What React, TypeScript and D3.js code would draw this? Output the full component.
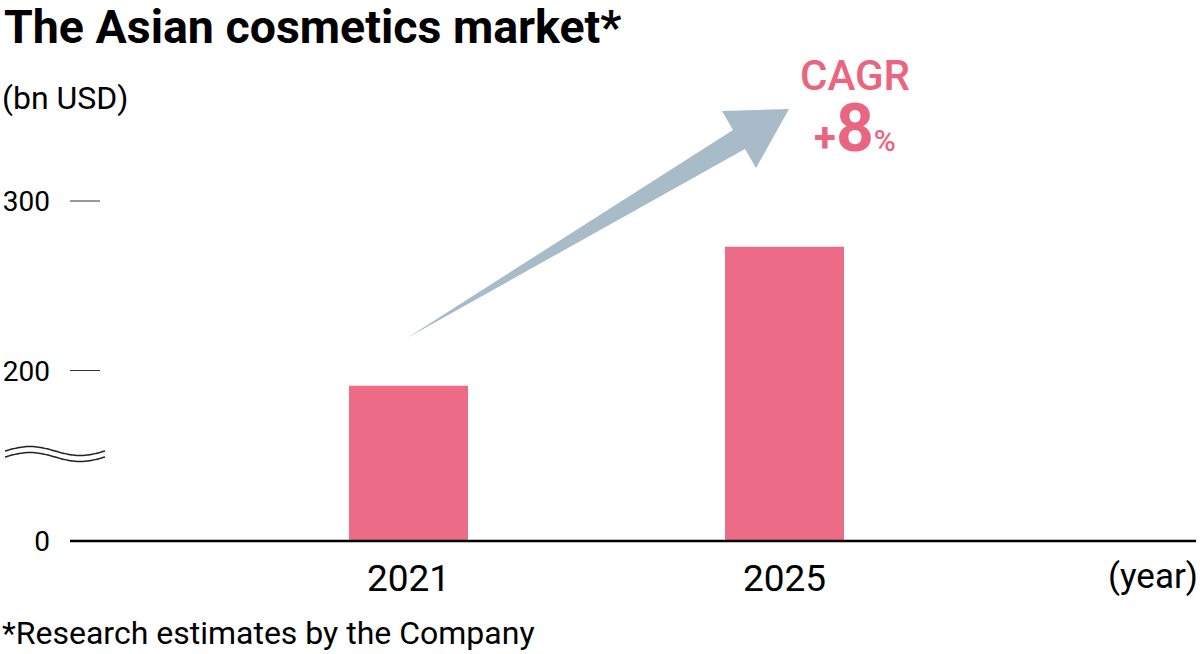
import React from "react";
import * as d3 from "d3";

const years = ["2021", "2025"];
const values = [191, 273];
const yTicks = [200, 300];
const yTickLabels = ["200", "300"];
const zeroLabel = "0";

const W = 1200;
const H = 654;
const FONT = "Roboto, 'Noto Sans', sans-serif";

export default function App() {
  const x = d3.scalePoint<string>().domain(years).range([408.5, 784.5]);
  const y = d3.scaleLinear().domain([100, 300]).range([540, 201]);
  const barW = 119;
  const baseY = 541;

  const wave = (off: number) => {
    const pts: [number, number][] = d3.range(0, 101, 2).map((t) => [5 + t, 454 + off - 4.5 * Math.sin((t / 100) * 2 * Math.PI)]);
    return d3.line().curve(d3.curveBasis)(pts) as string;
  };

  const arrow = [
    [407, 338],
    [733, 130],
    [722, 111],
    [789, 109],
    [756, 168],
    [745, 149],
  ];

  return (
    <svg width={W} height={H} style={{ position: "absolute", left: 0, top: 0 }} fontFamily={FONT}>
      <rect width={W} height={H} fill="#fff" />
      <text x={4} y={43} fontSize={46.5} fontWeight={700} fill="#000">The Asian cosmetics market*</text>
      <text x={2} y={109} fontSize={32} fill="#000">(bn USD)</text>

      {yTicks.map((t, i) => (
        <g key={t}>
          <line x1={70} x2={100} y1={y(t)} y2={y(t)} stroke="#333" strokeWidth={1} />
          <text x={50} y={y(t) + 10} fontSize={28} textAnchor="end" fill="#000">{yTickLabels[i]}</text>
        </g>
      ))}
      <text x={50} y={baseY + 10} fontSize={28} textAnchor="end" fill="#000">{zeroLabel}</text>

      <path d={wave(-3)} fill="none" stroke="#222" strokeWidth={1.5} />
      <path d={wave(3)} fill="none" stroke="#222" strokeWidth={1.5} />

      {years.map((yr, i) => (
        <rect key={yr} x={(x(yr) as number) - barW / 2} y={y(values[i])} width={barW} height={baseY - y(values[i])} fill="#ec6c87" />
      ))}

      <line x1={70} x2={1196} y1={baseY} y2={baseY} stroke="#000" strokeWidth={2.5} />

      {years.map((yr) => (
        <text key={yr} x={x(yr) as number} y={591} fontSize={37} textAnchor="middle" fill="#000">{yr}</text>
      ))}
      <text x={1198} y={588} fontSize={35} textAnchor="end" fill="#000">(year)</text>
      <text x={2} y={644} fontSize={32} fill="#000">*Research estimates by the Company</text>

      <polygon points={arrow.map((p) => p.join(",")).join(" ")} fill="#a7bbc8" />

      <text x={855} y={90} fontSize={42} fontWeight={500} textAnchor="middle" fill="#ea657f">CAGR</text>
      <text x={855} y={151} textAnchor="middle" fill="#ea657f" fontWeight={700}>
        <tspan fontSize={40}>+</tspan>
        <tspan fontSize={66}>8</tspan>
        <tspan fontSize={30} fontWeight={500}>%</tspan>
      </text>
    </svg>
  );
}
